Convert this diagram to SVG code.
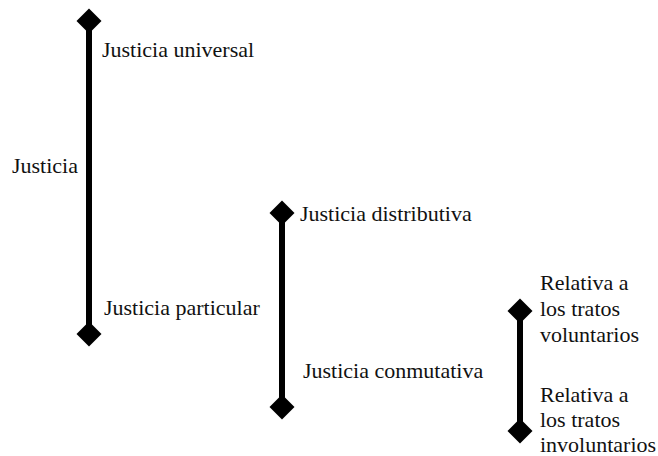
<svg xmlns="http://www.w3.org/2000/svg" width="658" height="456" viewBox="0 0 658 456">
<style>
.t{font-family:"Liberation Serif","Times New Roman",serif;font-size:22px;fill:#111}
.bar{stroke:#000;stroke-width:6}
.d{fill:#000}
</style>
<defs>
<polygon id="dia" points="0,-12.5 12.5,0 0,12.5 -12.5,0"/>
</defs>
<rect width="658" height="456" fill="#fff"/>
<g id="connectors">
<line class="bar" x1="89" y1="21" x2="89" y2="334"/>
<line class="bar" x1="282" y1="213" x2="282" y2="407"/>
<line class="bar" x1="520" y1="311" x2="520" y2="431"/>
</g>
<g id="justicia"><text class="t" x="12" y="173">Justicia</text></g>
<g id="universal">
<use href="#dia" class="d" x="89" y="21"/>
<text class="t" x="102" y="57">Justicia universal</text>
</g>
<g id="particular">
<use href="#dia" class="d" x="89" y="334"/>
<text class="t" x="104" y="315">Justicia particular</text>
</g>
<g id="distributiva">
<use href="#dia" class="d" x="282" y="213"/>
<text class="t" x="300" y="221">Justicia distributiva</text>
</g>
<g id="conmutativa">
<use href="#dia" class="d" x="282" y="407"/>
<text class="t" x="303" y="378">Justicia conmutativa</text>
</g>
<g id="voluntarios">
<use href="#dia" class="d" x="520" y="311"/>
<text class="t" x="540" y="290">Relativa a</text>
<text class="t" x="540" y="316">los tratos</text>
<text class="t" x="540" y="342">voluntarios</text>
</g>
<g id="involuntarios">
<use href="#dia" class="d" x="520" y="431"/>
<text class="t" x="540" y="402">Relativa a</text>
<text class="t" x="540" y="427">los tratos</text>
<text class="t" x="540" y="452">involuntarios</text>
</g>
</svg>
